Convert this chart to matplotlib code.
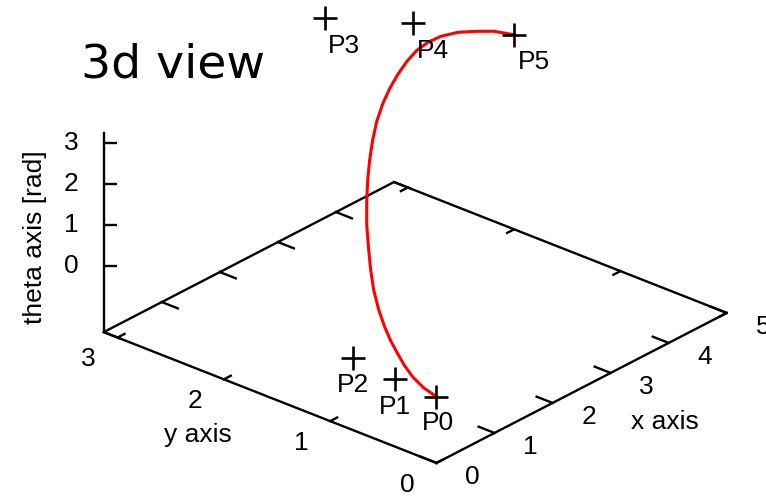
import numpy as np
import matplotlib
matplotlib.use("Agg")
import matplotlib.pyplot as plt
from matplotlib.transforms import offset_copy
from mpl_toolkits.mplot3d import proj3d

plt.rcParams["font.family"] = ["Liberation Sans", "DejaVu Sans"]
plt.rcParams["font.size"] = 19

# control points (x, y, theta)
names = ["P0", "P1", "P2", "P3", "P4", "P5"]
pts_x = [0.0, 0.03, 0.11, 3.90, 4.46, 5.0]
pts_y = [0.0, 0.41, 0.85, 3.18, 2.66, 2.0]
pts_theta = [0.0, 0.0, 0.0, 3.14, 3.14, 3.14]

# sampled trajectory
path_x = [0.0, 0.06, 0.155, 0.258, 0.356, 0.457, 0.569, 0.692, 0.849, 1.028,
          1.214, 1.464, 1.730, 1.938, 2.170, 2.424, 2.679, 2.957, 3.208, 3.479,
          3.753, 4.013, 4.227, 4.430, 4.628, 4.781, 4.916, 5.0]
path_y = [0.0, 0.155, 0.310, 0.441, 0.560, 0.681, 0.799, 0.922, 1.055, 1.181,
          1.301, 1.456, 1.601, 1.705, 1.813, 1.923, 2.025, 2.119, 2.191, 2.263,
          2.328, 2.376, 2.389, 2.377, 2.326, 2.240, 2.144, 2.0]
path_theta = [0.0, 0.02, 0.06, 0.12, 0.22, 0.34, 0.48, 0.68, 0.92, 1.15,
              1.38, 1.65, 1.92, 2.15, 2.36, 2.55, 2.70, 2.84, 2.95, 3.02,
              3.07, 3.10, 3.125, 3.135, 3.14, 3.14, 3.14, 3.14]

x_ticks = [0, 1, 2, 3, 4, 5]
y_ticks = [0, 1, 2, 3]
z_ticks = [0, 1, 2, 3]
x_lim = (0.0, 5.0)
y_lim = (0.0, 3.13)
z_lim = (-1.62, 3.25)

# label offsets in pixels
lab_dx = [1, 0, 0, 19, 20, 20]
lab_dy = [-26, -28, -27, -28, -28, -27]

fig = plt.figure(figsize=(7.66, 4.98), dpi=100)
ax = fig.add_axes([0.093, -0.139, 0.875, 1.345], projection="3d",
                  proj_type="ortho", computed_zorder=False)
ax.view_init(elev=26.8, azim=-138.9)
ax.set_box_aspect((1, 1, 0.505))
ax.set_axis_off()


def shifted(dx, dy):
    return offset_copy(ax.transData, fig=fig, x=dx, y=dy, units="dots")


zb = z_lim[0]
x0, x1 = x_lim
y0, y1 = y_lim
k = dict(color="black", lw=1.7)

# base plane and vertical axis
ax.plot([x0, x1, x1, x0, x0], [y0, y0, y1, y1, y0], [zb] * 5, **k)
ax.plot([x0, x0], [y1, y1], list(z_lim), **k)

for xv in x_ticks:
    ax.plot([xv, xv], [y0, y0 + 0.15], [zb, zb], **k)
    ax.plot([xv, xv], [y1, y1 - 0.15], [zb, zb], **k)
    ax.text(xv, y0 - 0.34, zb, str(xv), ha="center", va="center")
for yv in y_ticks:
    ax.plot([x0, x0 + 0.12], [yv, yv], [zb, zb], **k)
    ax.plot([x1, x1 - 0.12], [yv, yv], [zb, zb], **k)
    ax.text(x0 - 0.63, yv - 0.07, zb, str(yv), ha="center", va="center")
for zv in z_ticks:
    ax.plot([x0], [y1], [zv], marker="_", ms=9.4, mew=1.7, color="black",
            transform=shifted(6.5, 0))
    ax.text(x0, y1, zv, str(zv), ha="right", va="center",
            transform=shifted(-25, 0))

ax.text(2.48, -0.79, zb, "x axis", ha="center", va="center")
ax.text(-1.25, 1.56, zb, "y axis", ha="center", va="center")
ax.text(x0, y1, 0.71, "theta axis [rad]", zdir="z", ha="center", va="center",
        transform=shifted(-69, 0))

# trajectory and control points
ax.plot(path_x, path_y, path_theta, color="red", lw=2.2)
ax.plot(pts_x, pts_y, pts_theta, ls="none", marker="+", ms=17, mew=1.9,
        color="black")
for n, px, py, pz, dx, dy in zip(names, pts_x, pts_y, pts_theta, lab_dx, lab_dy):
    ax.text(px, py, pz, n, ha="center", va="center", transform=shifted(dx, dy))

ax.set_xlim(*x_lim)
ax.set_ylim(*y_lim)
ax.set_zlim(*z_lim)

fig.text(81 / 766, 1 - 77 / 498, "3d view", fontsize=34, family="DejaVu Sans",
         ha="left", va="baseline")

# pin the base plane corners to their pixel spots
fig.canvas.draw()


def to_px(p):
    u, v, _ = proj3d.proj_transform(*p, ax.get_proj())
    return ax.transData.transform((u, v))


corners = [(x0, y0, zb), (x1, y0, zb), (x0, y1, zb), (x1, y1, zb)]
want = np.array([(437, 35), (727, 185), (104, 166), (393, 316)], float)
got = np.array([to_px(c) for c in corners])
s = np.linalg.norm(want[1] - want[2]) / np.linalg.norm(got[1] - got[2])
W, H = fig.bbox.width, fig.bbox.height
bb = ax.get_position()
left, bottom, side = bb.x0 * W, bb.y0 * H, bb.width * W
c_got, c_want = got.mean(0), want.mean(0)
new_left = c_want[0] - s * (c_got[0] - left)
new_bottom = c_want[1] - s * (c_got[1] - bottom)
ax.set_position([new_left / W, new_bottom / H, s * side / W, s * side / H])

fig.savefig("out.png", dpi=100)
